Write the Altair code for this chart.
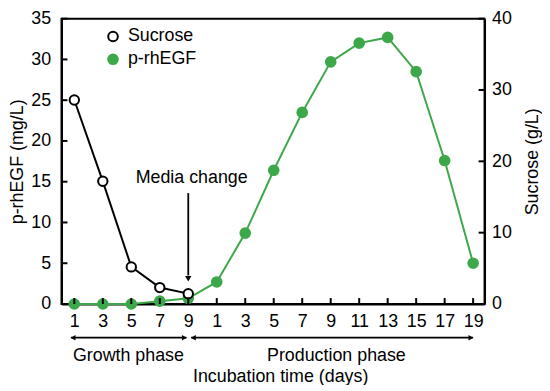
import altair as alt
import pandas as pd

GREEN = "#3da84a"
W, H = 427, 288
FONT = "Liberation Sans"

# ---- data ----
idx = list(range(15))
day_labels = ["1", "3", "5", "7", "9", "1", "3", "5", "7", "9", "11", "13", "15", "17", "19"]
egf = [0, 0, 0, 0.35, 0.7, 2.7, 8.7, 16.4, 23.5, 29.7, 32.0, 32.7, 28.5, 17.6, 5.0]  # mg/L
suc_idx = [0, 1, 2, 3, 4]
sucrose = [28.6, 17.2, 5.2, 2.3, 1.45]  # g/L
left_ticks = [0, 5, 10, 15, 20, 25, 30, 35]
right_ticks = [0, 10, 20, 30, 40]
series_names = ["Sucrose", "p-rhEGF"]

phase_names = ["Growth phase", "Production phase"]
phase_start = [-0.12, 4.1]
phase_end = [3.94, 14.0]
phase_mid = [1.9, 9.2]

media_idx = 4
media_text_pos = 15.4
media_arrow_top = 13.6
media_arrow_tip = 3.1

egf_df = pd.DataFrame({"idx": idx, "value": egf, "series": "p-rhEGF"})
suc_df = pd.DataFrame({"idx": suc_idx, "value": sucrose, "series": "Sucrose"})
lt_df = pd.DataFrame({"value": left_ticks})
rt_df = pd.DataFrame({"value": right_ticks})
xt_df = pd.DataFrame({"idx": idx})
phase_df = pd.DataFrame({"name": phase_names, "start": phase_start, "end": phase_end, "mid": phase_mid})
heads_df = pd.DataFrame({
    "idx": [phase_start[0] + 0.08, phase_end[0] - 0.08, phase_start[1] + 0.08, phase_end[1] - 0.08],
    "shape": ["triangle-left", "triangle-right", "triangle-left", "triangle-right"],
})
media_text_df = pd.DataFrame({"idx": [4.12], "value": [media_text_pos], "label": ["Media change"]})
media_rule_df = pd.DataFrame({"idx": [media_idx], "value": [media_arrow_top], "value2": [media_arrow_tip + 0.4]})
media_head_df = pd.DataFrame({"idx": [media_idx], "value": [media_arrow_tip]})

# ---- scales & axes ----
xscale = alt.Scale(domain=[-0.45, 14.4], nice=False, zero=False)
label_expr = "[" + ",".join(f"'{d}'" for d in day_labels) + "][datum.value]"
xaxis = alt.Axis(values=idx, labelExpr=label_expr, title="Incubation time (days)",
                 ticks=False, grid=False, labelPadding=9, labelFlush=False,
                 titleX=220.7, titleY=73, titleBaseline="middle", titleAlign="center")
yl = alt.Scale(domain=[0, 35], nice=False)
yr = alt.Scale(domain=[0, 40], nice=False)
yaxis_l = alt.Axis(values=left_ticks, title="p-rhEGF (mg/L)", ticks=False, grid=False,
                   labelPadding=11, titleX=-44, titleY=H / 2, titleAngle=270,
                   titleBaseline="middle", titleAlign="center")
yaxis_r = alt.Axis(values=right_ticks, title="Sucrose (g/L)", orient="right", ticks=False, grid=False,
                   labelPadding=7, titleX=48, titleY=H / 2, titleAngle=270,
                   titleBaseline="middle", titleAlign="center")

X = alt.X("idx:Q", scale=xscale, axis=xaxis)

legend = alt.Legend(title=None, orient="none", legendX=43, legendY=9, padding=0,
                    labelFontSize=18, labelFont=FONT, labelColor="black", labelOffset=6,
                    rowPadding=5, symbolSize=95, symbolStrokeWidth=2, symbolOpacity=1,
                    symbolType="circle")
fill = alt.Fill("series:N", scale=alt.Scale(domain=series_names, range=["white", GREEN]), legend=legend)
stroke = alt.Stroke("series:N", scale=alt.Scale(domain=series_names, range=["black", GREEN]), legend=legend)

# ---- left (p-rhEGF) group ----
egf_line = alt.Chart(egf_df).mark_line(color=GREEN, strokeWidth=2).encode(
    x=X, y=alt.Y("value:Q", scale=yl, axis=yaxis_l))
egf_pts = alt.Chart(egf_df).mark_point(shape="circle", size=95, strokeWidth=2, opacity=1).encode(
    x=X, y=alt.Y("value:Q", scale=yl, axis=yaxis_l), fill=fill, stroke=stroke)
lticks = alt.Chart(lt_df).mark_rule(color="black", strokeWidth=2).encode(
    y=alt.Y("value:Q", scale=yl, axis=yaxis_l), x=alt.value(0), x2=alt.value(6))
xticks = alt.Chart(xt_df).mark_rule(color="black", strokeWidth=2).encode(
    x=X, y=alt.value(H), y2=alt.value(H - 6))
media_text = alt.Chart(media_text_df).mark_text(font=FONT, fontSize=18, color="black",
                                                baseline="middle", align="center").encode(
    x=X, y=alt.Y("value:Q", scale=yl, axis=yaxis_l), text="label:N")
media_rule = alt.Chart(media_rule_df).mark_rule(color="black", strokeWidth=1.8).encode(
    x=X, y=alt.Y("value:Q", scale=yl, axis=yaxis_l), y2="value2:Q")
media_head = alt.Chart(media_head_df).mark_point(shape="triangle-down", filled=True, size=40,
                                                 color="black", opacity=1).encode(
    x=X, y=alt.Y("value:Q", scale=yl, axis=yaxis_l))
phase_rule = alt.Chart(phase_df).mark_rule(color="black", strokeWidth=1.8).encode(
    x=alt.X("start:Q", scale=xscale, axis=xaxis), x2="end:Q", y=alt.value(322))
phase_heads = alt.Chart(heads_df).mark_point(filled=True, size=30, color="black", opacity=1).encode(
    x=X, y=alt.value(322), shape=alt.Shape("shape:N", scale=None))
phase_text = alt.Chart(phase_df).mark_text(font=FONT, fontSize=18, color="black",
                                           baseline="middle", align="center").encode(
    x=alt.X("mid:Q", scale=xscale, axis=xaxis), y=alt.value(341), text="name:N")

left = alt.layer(egf_line, egf_pts, lticks, xticks, media_text, media_rule, media_head,
                 phase_rule, phase_heads, phase_text)

# ---- right (Sucrose) group ----
suc_line = alt.Chart(suc_df).mark_line(color="black", strokeWidth=2).encode(
    x=X, y=alt.Y("value:Q", scale=yr, axis=yaxis_r))
suc_pts = alt.Chart(suc_df).mark_point(shape="circle", size=90, strokeWidth=2, opacity=1).encode(
    x=X, y=alt.Y("value:Q", scale=yr, axis=yaxis_r), fill=fill, stroke=stroke)
rticks = alt.Chart(rt_df).mark_rule(color="black", strokeWidth=2).encode(
    y=alt.Y("value:Q", scale=yr, axis=yaxis_r), x=alt.value(W - 6), x2=alt.value(W))
right = alt.layer(suc_line, suc_pts, rticks)

chart = alt.layer(left, right).resolve_scale(y="independent").properties(
    width=W, height=H,
    autosize=alt.AutoSizeParams(type="none"),
    padding={"left": 54, "top": 9, "right": 58, "bottom": 80},
).configure_view(stroke="black", strokeWidth=2).configure_axis(
    labelFont=FONT, titleFont=FONT, labelFontSize=18, titleFontSize=18,
    labelColor="black", titleColor="black", titleFontWeight="normal",
    domainColor="black", domainWidth=2,
)

chart.save("out.html", embed_options={"renderer": "svg", "actions": False})
